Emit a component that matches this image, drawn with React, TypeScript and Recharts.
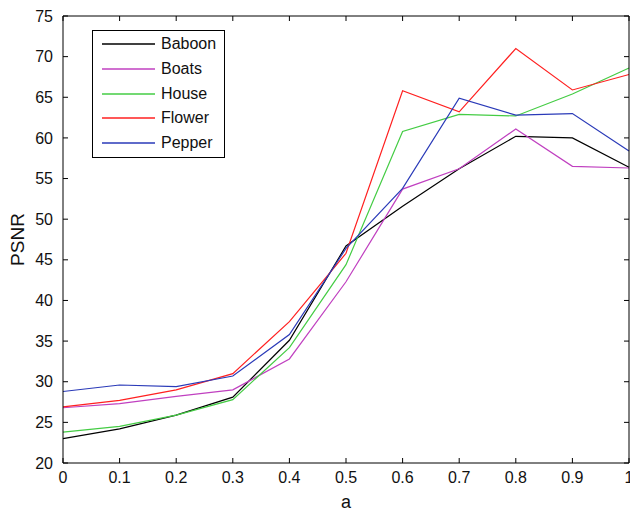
import React from 'react';
import { LineChart, Line, XAxis, YAxis, Legend } from 'recharts';

const aValues = [0, 0.1, 0.2, 0.3, 0.4, 0.5, 0.6, 0.7, 0.8, 0.9, 1];
const baboon = [23.0, 24.2, 25.9, 28.1, 35.1, 46.7, 51.6, 56.2, 60.2, 60.0, 56.4];
const boats = [26.8, 27.3, 28.2, 29.0, 32.8, 42.3, 53.7, 56.2, 61.1, 56.5, 56.3];
const house = [23.8, 24.5, 25.9, 27.8, 34.2, 44.4, 60.8, 62.9, 62.7, 65.4, 68.6];
const flower = [26.9, 27.7, 29.0, 31.0, 37.4, 45.8, 65.8, 63.2, 71.0, 65.9, 67.8];
const pepper = [28.8, 29.6, 29.4, 30.7, 35.8, 46.4, 53.8, 64.9, 62.8, 63.0, 58.4];

const xTicks = [0, 0.1, 0.2, 0.3, 0.4, 0.5, 0.6, 0.7, 0.8, 0.9, 1];
const yTicks = [20, 25, 30, 35, 40, 45, 50, 55, 60, 65, 70, 75];

const series = [
  { key: 'Baboon', values: baboon, color: '#000000' },
  { key: 'Boats', values: boats, color: '#c040c0' },
  { key: 'House', values: house, color: '#44cc44' },
  { key: 'Flower', values: flower, color: '#ff2020' },
  { key: 'Pepper', values: pepper, color: '#2a3ab8' },
];

const data = aValues.map((a, i) => {
  const row: Record<string, number> = { a };
  series.forEach((s) => {
    row[s.key] = s.values[i];
  });
  return row;
});

const font = "'Liberation Sans', Arial, sans-serif";
const tickStyle = { fill: '#111', fontSize: 16, fontFamily: font };
const noLabel = () => <g />;

// legend keeps the plotting order, not the alphabetical one
const LegendBox = () => (
  <div
    style={{
      border: '1px solid #000',
      background: '#fff',
      width: 131,
      padding: '1px 0 2px 0',
      fontFamily: font,
      fontSize: 16,
      color: '#111',
    }}
  >
    {series.map((s) => (
      <div key={s.key} style={{ height: 24.7, display: 'flex', alignItems: 'center' }}>
        <svg width={62} height={4} style={{ display: 'block' }}>
          <line x1={9} y1={2} x2={62} y2={2} stroke={s.color} strokeWidth={1.3} />
        </svg>
        <span style={{ marginLeft: 6 }}>{s.key}</span>
      </div>
    ))}
  </div>
);

const App = () => {
  return (
    <div style={{ position: 'absolute', left: 0, top: 0, background: '#fff' }}>
      <LineChart width={630} height={511} data={data} margin={{ top: 0, right: 0, bottom: 0, left: 0 }}>
        <XAxis
          dataKey="a"
          type="number"
          domain={[0, 1]}
          ticks={xTicks}
          tick={tickStyle}
          tickSize={-5}
          tickMargin={14}
          stroke="#000"
          height={48}
          interval={0}
          label={{ value: 'a', position: 'insideBottom', offset: 3, fill: '#111', fontSize: 18, fontFamily: font }}
        />
        <XAxis
          xAxisId="top"
          dataKey="a"
          orientation="top"
          type="number"
          domain={[0, 1]}
          ticks={xTicks}
          tick={noLabel}
          tickSize={-5}
          stroke="#000"
          height={16}
          interval={0}
        />
        <YAxis
          type="number"
          domain={[20, 75]}
          ticks={yTicks}
          tick={tickStyle}
          tickSize={-5}
          tickMargin={15}
          stroke="#000"
          width={63}
          interval={0}
          label={{ value: 'PSNR', angle: -90, position: 'center', dx: -14, fill: '#111', fontSize: 19, fontFamily: font }}
        />
        <YAxis
          yAxisId="right"
          orientation="right"
          type="number"
          domain={[20, 75]}
          ticks={yTicks}
          tick={noLabel}
          tickSize={-5}
          stroke="#000"
          width={1}
          interval={0}
        />
        <Legend
          layout="vertical"
          align="center"
          verticalAlign="middle"
          content={<LegendBox />}
          wrapperStyle={{ left: 92, top: 30, width: 133 }}
        />
        {series.map((s) => (
          <Line
            key={s.key}
            type="linear"
            dataKey={s.key}
            name={s.key}
            stroke={s.color}
            strokeWidth={1.2}
            dot={false}
            activeDot={false}
            isAnimationActive={false}
          />
        ))}
        <Line
          xAxisId="top"
          yAxisId="right"
          dataKey="Baboon"
          stroke="none"
          dot={false}
          activeDot={false}
          legendType="none"
          isAnimationActive={false}
        />
      </LineChart>
    </div>
  );
};

export default App;
